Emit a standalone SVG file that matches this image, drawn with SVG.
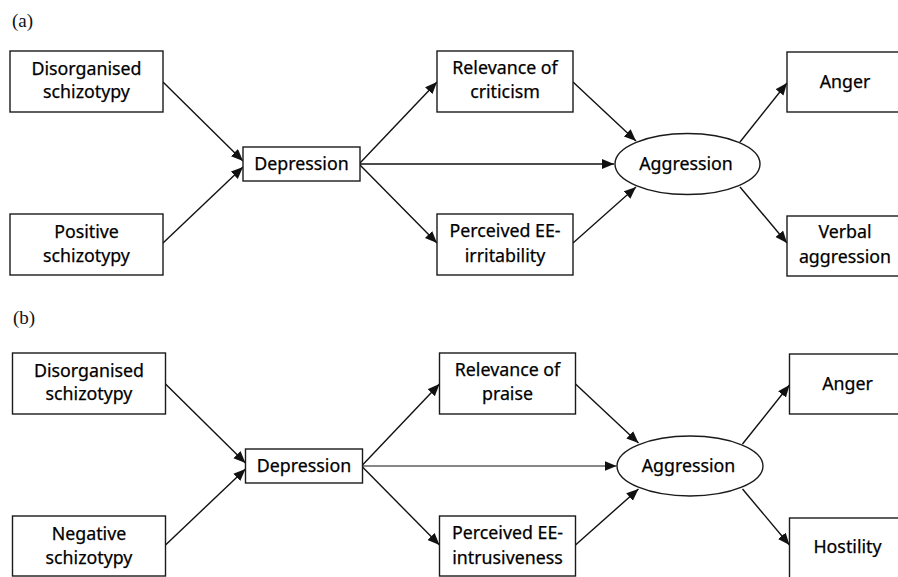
<svg xmlns="http://www.w3.org/2000/svg" width="898" height="577" viewBox="0 0 898 577">
<style>
.box{fill:#fff;stroke:#1a1a1a;stroke-width:1.4}
.t{font-family:"Noto Sans","Open Sans",sans-serif;font-size:17.8px;fill:#000;stroke:#000;stroke-width:0.25;text-anchor:middle}
.lbl{font-family:"Liberation Serif",serif;font-size:19px;fill:#111}
.c{stroke:#111;stroke-width:1.4;fill:none;marker-end:url(#ah)}
.thin{stroke-width:1}
</style>
<defs>
<marker id="ah" markerUnits="userSpaceOnUse" markerWidth="13" markerHeight="11" refX="12" refY="5" orient="auto">
<path d="M0,0 L12,5 L0,10 z" fill="#111"/>
</marker>
</defs>
<rect width="898" height="577" fill="#fff"/>
<text class="lbl" x="12" y="27">(a)</text>
<text class="lbl" x="13" y="324">(b)</text>

<g id="panel-a">
<g id="connectors-a">
<line class="c" x1="163" y1="82" x2="243" y2="161"/>
<line class="c" x1="163" y1="243" x2="243" y2="167"/>
<line class="c" x1="360" y1="163" x2="437" y2="82"/>
<line class="c" x1="360" y1="164" x2="614" y2="164"/>
<line class="c" x1="360" y1="165" x2="437" y2="243"/>
<line class="c" x1="573" y1="82" x2="636" y2="141"/>
<line class="c" x1="573" y1="243" x2="636" y2="187"/>
<line class="c" x1="740" y1="142" x2="787" y2="83"/>
<line class="c" x1="740" y1="187" x2="787" y2="243"/>
</g>
<g id="a-disorganised"><rect class="box" x="10" y="51" width="153" height="61"/><text class="t" x="86.5" y="75">Disorganised</text><text class="t" x="86.5" y="98">schizotypy</text></g>
<g id="a-positive"><rect class="box" x="10" y="214" width="153" height="61"/><text class="t" x="86.5" y="238">Positive</text><text class="t" x="86.5" y="262">schizotypy</text></g>
<g id="a-depression"><rect class="box" x="243" y="147" width="117" height="34"/><text class="t" x="301.5" y="170">Depression</text></g>
<g id="a-relevance"><rect class="box" x="437" y="51" width="136" height="61"/><text class="t" x="505" y="74">Relevance of</text><text class="t" x="505" y="98">criticism</text></g>
<g id="a-perceived"><rect class="box" x="437" y="214" width="136" height="61"/><text class="t" x="505" y="237">Perceived EE-</text><text class="t" x="505" y="262">irritability</text></g>
<g id="a-aggression"><ellipse class="box" cx="687.5" cy="164" rx="72.5" ry="30.5"/><text class="t" x="686" y="170">Aggression</text></g>
<g id="a-anger"><rect class="box" x="787" y="52" width="120" height="60"/><text class="t" x="845" y="88">Anger</text></g>
<g id="a-verbal"><rect class="box" x="787" y="216" width="120" height="60"/><text class="t" x="845" y="238">Verbal</text><text class="t" x="845" y="263">aggression</text></g>
</g>

<g id="panel-b">
<g id="connectors-b">
<line class="c" x1="165.5" y1="384" x2="245.5" y2="463"/>
<line class="c" x1="165.5" y1="545" x2="245.5" y2="469"/>
<line class="c" x1="362.5" y1="465" x2="439.5" y2="384"/>
<line class="c thin" x1="362.5" y1="466" x2="616.5" y2="466"/>
<line class="c" x1="362.5" y1="467" x2="439.5" y2="545"/>
<line class="c" x1="575.5" y1="384" x2="638.5" y2="443"/>
<line class="c" x1="575.5" y1="545" x2="638.5" y2="489"/>
<line class="c" x1="742.5" y1="444" x2="789.5" y2="385"/>
<line class="c" x1="742.5" y1="489" x2="789.5" y2="545"/>
</g>
<g id="b-disorganised"><rect class="box" x="12.5" y="353" width="153" height="61"/><text class="t" x="89" y="377">Disorganised</text><text class="t" x="89" y="400">schizotypy</text></g>
<g id="b-negative"><rect class="box" x="12.5" y="516" width="153" height="60"/><text class="t" x="89" y="540">Negative</text><text class="t" x="89" y="564">schizotypy</text></g>
<g id="b-depression"><rect class="box" x="245.5" y="449" width="117" height="34"/><text class="t" x="304" y="472">Depression</text></g>
<g id="b-relevance"><rect class="box" x="439.5" y="353" width="136" height="61"/><text class="t" x="507.5" y="376">Relevance of</text><text class="t" x="507.5" y="400">praise</text></g>
<g id="b-perceived"><rect class="box" x="439.5" y="516" width="136" height="60"/><text class="t" x="507.5" y="539">Perceived EE-</text><text class="t" x="507.5" y="564">intrusiveness</text></g>
<g id="b-aggression"><ellipse class="box" cx="690" cy="466" rx="73" ry="30"/><text class="t" x="688.5" y="472">Aggression</text></g>
<g id="b-anger"><rect class="box" x="789.5" y="354" width="120" height="60"/><text class="t" x="847.5" y="390">Anger</text></g>
<g id="b-hostility"><rect class="box" x="789.5" y="518" width="120" height="60"/><text class="t" x="847.5" y="553">Hostility</text></g>
</g>
</svg>
